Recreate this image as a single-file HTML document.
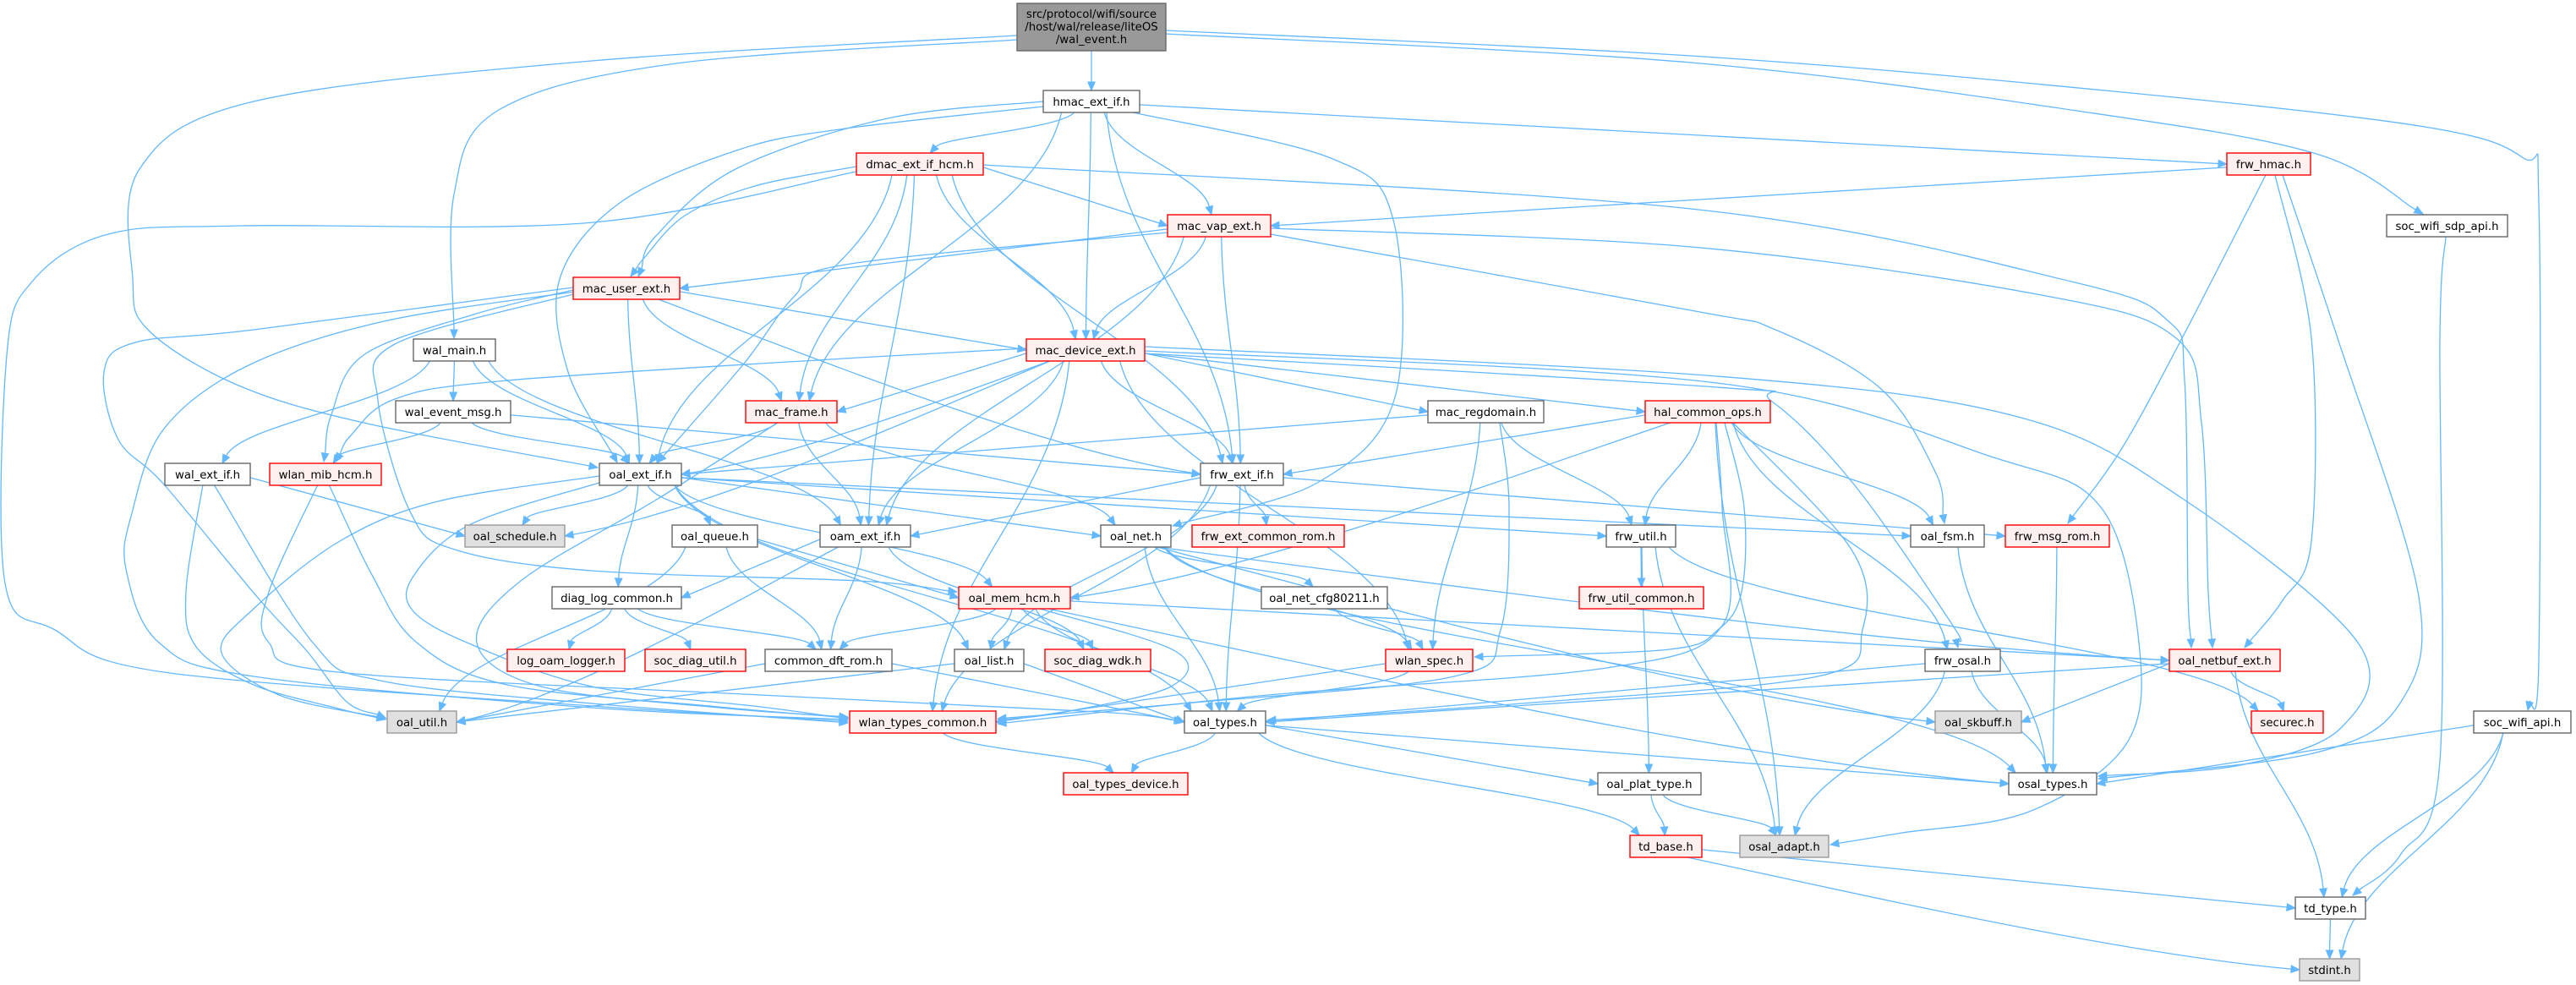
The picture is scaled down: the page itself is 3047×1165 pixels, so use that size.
<!DOCTYPE html>
<html><head><meta charset="utf-8">
<style>
html,body{margin:0;padding:0;background:#fff;width:3047px;height:1165px;overflow:hidden}
svg{display:block}
.n text{font-family:"DejaVu Sans","Liberation Sans",sans-serif;font-size:13.3px;fill:#000;text-anchor:middle}
.w rect{fill:#fff;stroke:#666}
.r rect{fill:#fff0f0;stroke:#f00}
.g rect{fill:#e0e0e0;stroke:#999}
rect{stroke-width:1.4}
</style></head>
<body>
<svg xmlns="http://www.w3.org/2000/svg" width="3047" height="1165" viewBox="0 0 3047 1165">
<rect x="0" y="0" width="3047" height="1165" fill="#fff" stroke="none"/>
<g id="edges" fill="none" stroke="#63b8ff" stroke-width="1.3"></g>
<g id="arrows" fill="#63b8ff" stroke="#63b8ff" stroke-width="1"></g>
<g id="nodes">
<g class="n"><rect x="1203" y="4" width="176" height="56" fill="#999" stroke="#666"/><text x="1291" y="21">src/protocol/wifi/source</text><text x="1291" y="36">/host/wal/release/liteOS</text><text x="1291" y="51">/wal_event.h</text></g>
<g class="n w"><rect x="1234" y="107" width="114" height="26"/><text x="1291" y="125">hmac_ext_if.h</text></g>
<g class="n r"><rect x="1013" y="181" width="150" height="26"/><text x="1088" y="199">dmac_ext_if_hcm.h</text></g>
<g class="n r"><rect x="2634" y="181" width="99" height="26"/><text x="2683.5" y="199">frw_hmac.h</text></g>
<g class="n r"><rect x="1381" y="254" width="122" height="26"/><text x="1442" y="272">mac_vap_ext.h</text></g>
<g class="n w"><rect x="2823" y="254" width="143" height="26"/><text x="2894.5" y="272">soc_wifi_sdp_api.h</text></g>
<g class="n r"><rect x="678" y="328" width="126" height="26"/><text x="741" y="346">mac_user_ext.h</text></g>
<g class="n w"><rect x="489" y="401" width="97" height="26"/><text x="537.5" y="419">wal_main.h</text></g>
<g class="n r"><rect x="1214" y="401" width="140" height="26"/><text x="1284" y="419">mac_device_ext.h</text></g>
<g class="n w"><rect x="468" y="474" width="136" height="26"/><text x="536" y="492">wal_event_msg.h</text></g>
<g class="n r"><rect x="882" y="474" width="108" height="26"/><text x="936" y="492">mac_frame.h</text></g>
<g class="n w"><rect x="1689" y="474" width="137" height="26"/><text x="1757.5" y="492">mac_regdomain.h</text></g>
<g class="n r"><rect x="1946" y="474" width="148" height="26"/><text x="2020" y="492">hal_common_ops.h</text></g>
<g class="n w"><rect x="195" y="548" width="101" height="26"/><text x="245.5" y="566">wal_ext_if.h</text></g>
<g class="n r"><rect x="319" y="548" width="132" height="26"/><text x="385" y="566">wlan_mib_hcm.h</text></g>
<g class="n w"><rect x="709" y="548" width="97" height="26"/><text x="757.5" y="566">oal_ext_if.h</text></g>
<g class="n w"><rect x="1420" y="548" width="98" height="26"/><text x="1469" y="566">frw_ext_if.h</text></g>
<g class="n g"><rect x="550" y="621" width="118" height="26"/><text x="609" y="639">oal_schedule.h</text></g>
<g class="n w"><rect x="795" y="621" width="101" height="26"/><text x="845.5" y="639">oal_queue.h</text></g>
<g class="n w"><rect x="970" y="621" width="107" height="26"/><text x="1023.5" y="639">oam_ext_if.h</text></g>
<g class="n w"><rect x="1302" y="621" width="83" height="26"/><text x="1343.5" y="639">oal_net.h</text></g>
<g class="n r"><rect x="1410" y="621" width="180" height="26"/><text x="1500" y="639">frw_ext_common_rom.h</text></g>
<g class="n w"><rect x="1900" y="621" width="82" height="26"/><text x="1941" y="639">frw_util.h</text></g>
<g class="n w"><rect x="2260" y="621" width="87" height="26"/><text x="2303.5" y="639">oal_fsm.h</text></g>
<g class="n r"><rect x="2372" y="621" width="123" height="26"/><text x="2433.5" y="639">frw_msg_rom.h</text></g>
<g class="n w"><rect x="653" y="694" width="153" height="26"/><text x="729.5" y="712">diag_log_common.h</text></g>
<g class="n r"><rect x="1134" y="694" width="132" height="26"/><text x="1200" y="712">oal_mem_hcm.h</text></g>
<g class="n w"><rect x="1492" y="694" width="149" height="26"/><text x="1566.5" y="712">oal_net_cfg80211.h</text></g>
<g class="n r"><rect x="1868" y="694" width="147" height="26"/><text x="1941.5" y="712">frw_util_common.h</text></g>
<g class="n r"><rect x="600" y="768" width="139" height="26"/><text x="669.5" y="786">log_oam_logger.h</text></g>
<g class="n r"><rect x="763" y="768" width="119" height="26"/><text x="822.5" y="786">soc_diag_util.h</text></g>
<g class="n w"><rect x="905" y="768" width="150" height="26"/><text x="980" y="786">common_dft_rom.h</text></g>
<g class="n w"><rect x="1129" y="768" width="82" height="26"/><text x="1170" y="786">oal_list.h</text></g>
<g class="n r"><rect x="1236" y="768" width="125" height="26"/><text x="1298.5" y="786">soc_diag_wdk.h</text></g>
<g class="n r"><rect x="1639" y="768" width="103" height="26"/><text x="1690.5" y="786">wlan_spec.h</text></g>
<g class="n w"><rect x="2277" y="768" width="89" height="26"/><text x="2321.5" y="786">frw_osal.h</text></g>
<g class="n r"><rect x="2566" y="768" width="131" height="26"/><text x="2631.5" y="786">oal_netbuf_ext.h</text></g>
<g class="n g"><rect x="458" y="841" width="82" height="26"/><text x="499" y="859">oal_util.h</text></g>
<g class="n r"><rect x="1005" y="841" width="173" height="26"/><text x="1091.5" y="859">wlan_types_common.h</text></g>
<g class="n w"><rect x="1401" y="841" width="96" height="26"/><text x="1449" y="859">oal_types.h</text></g>
<g class="n g"><rect x="2289" y="841" width="102" height="26"/><text x="2340" y="859">oal_skbuff.h</text></g>
<g class="n r"><rect x="2663" y="841" width="85" height="26"/><text x="2705.5" y="859">securec.h</text></g>
<g class="n w"><rect x="2926" y="841" width="115" height="26"/><text x="2983.5" y="859">soc_wifi_api.h</text></g>
<g class="n r"><rect x="1258" y="914" width="147" height="26"/><text x="1331.5" y="932">oal_types_device.h</text></g>
<g class="n w"><rect x="1890" y="914" width="122" height="26"/><text x="1951" y="932">oal_plat_type.h</text></g>
<g class="n w"><rect x="2376" y="914" width="104" height="26"/><text x="2428" y="932">osal_types.h</text></g>
<g class="n r"><rect x="1928" y="988" width="85" height="26"/><text x="1970.5" y="1006">td_base.h</text></g>
<g class="n g"><rect x="2058" y="988" width="105" height="26"/><text x="2110.5" y="1006">osal_adapt.h</text></g>
<g class="n w"><rect x="2715" y="1061" width="83" height="26"/><text x="2756.5" y="1079">td_type.h</text></g>
<g class="n g"><rect x="2720" y="1134" width="71" height="26"/><text x="2755.5" y="1152">stdint.h</text></g>
</g>
</svg>
<script>
(function(){
const N={
root:[1203,4,176,56],hmac:[1234,107,114,26],dmac:[1013,181,150,26],frw_hmac:[2634,181,99,26],
mac_vap:[1381,254,122,26],sdp:[2823,254,143,26],mac_user:[678,328,126,26],wal_main:[489,401,97,26],
mac_dev:[1214,401,140,26],wal_evt:[468,474,136,26],mac_frame:[882,474,108,26],mac_reg:[1689,474,137,26],
hal:[1946,474,148,26],wal_ext:[195,548,101,26],wlan_mib:[319,548,132,26],oal_ext:[709,548,97,26],
frw_ext:[1420,548,98,26],oal_sched:[550,621,118,26],oal_queue:[795,621,101,26],oam_ext:[970,621,107,26],
oal_net:[1302,621,83,26],frw_ext_rom:[1410,621,180,26],frw_util:[1900,621,82,26],oal_fsm:[2260,621,87,26],
frw_msg_rom:[2372,621,123,26],diag_log:[653,694,153,26],oal_mem:[1134,694,132,26],cfg:[1492,694,149,26],
frw_util_c:[1868,694,147,26],log_oam:[600,768,139,26],soc_diag_util:[763,768,119,26],common_dft:[905,768,150,26],
oal_list:[1129,768,82,26],soc_diag_wdk:[1236,768,125,26],wlan_spec:[1639,768,103,26],frw_osal:[2277,768,89,26],
oal_netbuf:[2566,768,131,26],oal_util:[458,841,82,26],wtc:[1005,841,173,26],oal_types:[1401,841,96,26],
oal_skbuff:[2289,841,102,26],securec:[2663,841,85,26],soc_wifi_api:[2926,841,115,26],otd:[1258,914,147,26],
oal_plat:[1890,914,122,26],osal_types:[2376,914,104,26],td_base:[1928,988,85,26],osal_adapt:[2058,988,105,26],
td_type:[2715,1061,83,26],stdint:[2720,1134,71,26]};
const S_={side:true};
const E=[
['root','hmac'],
['root','wal_main',{sp:[1203,47],v:[[800,75],[590,130],[537,230]],ep:[537,400]}],
['root','oal_ext',{sp:[1203,42],v:[[700,72],[300,120],[165,200],[157,330],[175,390],[280,455],[430,500]],ep:[707,553]}],
['root','sdp',{sp:[1379,40],v:[[2000,74],[2470,133],[2740,182]],ep:[2866,253]}],
['root','soc_wifi_api',{sp:[1379,36],v:[[2000,66],[2500,108],[2868,150],[2985,187],[3003,240],[3003,780]],ep:[2990,840]}],
['hmac','dmac'],['hmac','mac_vap'],['hmac','mac_dev'],['hmac','mac_frame'],['hmac','frw_ext'],['hmac','frw_hmac'],
['hmac','mac_user',{sp:[1234,120],v:[[1050,140],[870,200],[775,280]],ep:[755,327]}],
['hmac','oal_ext',{sp:[1234,126],v:[[1000,152],[874,177],[733,240],[662,330],[672,440]],ep:[730,547]}],
['hmac','oal_net',{sp:[1340,133],v:[[1574,187],[1648,260],[1650,470],[1560,570]],ep:[1387,622]}],
['dmac','mac_vap'],
['dmac','mac_user',{sp:[1013,197],v:[[893,220],[810,255],[762,305]],ep:[746,327]}],
['dmac','mac_dev'],['dmac','mac_frame'],['dmac','oal_ext'],['dmac','oam_ext'],['dmac','frw_ext'],
['dmac','oal_netbuf',{sp:[1163,195],v:[[2000,247],[2450,333],[2565,380],[2584,450],[2588,700]],ep:[2592,766]}],
['dmac','wtc',{sp:[1013,203],v:[[702,263],[287,267],[128,277],[38,333],[8,420],[6,690],[65,745],[194,795],[700,835]],ep:[1003,853]}],
['mac_vap','mac_user'],['mac_vap','mac_dev'],['mac_vap','frw_ext'],['mac_vap','oam_ext'],
['mac_vap','oal_ext',{sp:[1381,275],v:[[1000,313],[940,350],[880,430]],ep:[778,547]}],
['mac_vap','oal_netbuf',{sp:[1503,270],v:[[2000,292],[2420,350],[2574,400],[2604,500],[2612,700]],ep:[2617,766]}],
['mac_vap','oal_fsm',{sp:[1503,277],v:[[2000,367],[2100,390],[2225,460],[2290,560]],ep:[2300,619]}],
['frw_hmac','mac_vap'],
['frw_hmac','frw_msg_rom',{sp:[2680,207],v:[[2581,400],[2510,530]],ep:[2446,619]}],
['frw_hmac','oal_netbuf',{sp:[2691,207],v:[[2734,400],[2734,640],[2700,710]],ep:[2655,766]}],
['frw_hmac','osal_types',{sp:[2700,207],v:[[2765,400],[2860,700],[2840,830],[2740,890]],ep:[2482,921]}],
['sdp','td_type',{sp:[2893,280],v:[[2886,400],[2886,900],[2840,1010]],ep:[2783,1059]}],
['mac_user','mac_dev'],['mac_user','mac_frame'],['mac_user','oal_ext'],['mac_user','frw_ext',S_],
['mac_user','wlan_mib',{sp:[678,343],v:[[560,372],[430,420],[392,490]],ep:[383,546]}],
['mac_user','wtc',{sp:[680,345],v:[[454,380],[292,433],[194,507],[156,607],[149,673],[188,760],[300,800],[700,837]],ep:[1003,851]}],
['mac_user','oal_util',{sp:[678,340],v:[[300,390],[160,405],[123,440],[140,520],[194,573],[305,707],[363,770],[410,830]],ep:[456,849]}],
['mac_user','oal_mem',{sp:[678,348],v:[[467,407],[447,473],[486,607],[538,650],[700,675],[1016,687]],ep:[1132,700]}],
['wal_main','wal_evt'],['wal_main','wal_ext'],['wal_main','oal_ext'],['wal_main','oam_ext'],
['mac_dev','mac_frame'],['mac_dev','oal_ext',S_],['mac_dev','oam_ext'],['mac_dev','wtc'],['mac_dev','frw_ext'],['mac_dev','wlan_spec'],['mac_dev','mac_reg'],['mac_dev','hal'],['mac_dev','oal_sched',S_],
['mac_dev','wlan_mib',{sp:[1214,412],v:[[1016,423],[600,450],[467,472],[415,515]],ep:[397,546]}],
['mac_dev','osal_types',{sp:[1354,410],v:[[2031,445],[2387,493],[2582,590],[2789,760],[2770,860],[2650,905]],ep:[2482,918]}],
['mac_dev','osal_adapt',{sp:[1354,415],v:[[2031,453],[2355,540],[2485,600],[2530,760],[2515,880],[2400,960],[2250,985]],ep:[2165,999]}],
['mac_dev','frw_osal',{sp:[1354,418],v:[[2031,458],[2096,475],[2193,573],[2310,740]],ep:[2316,766]}],
['mac_frame','oal_ext'],['mac_frame','oam_ext'],['mac_frame','oal_net'],
['mac_frame','wtc',{sp:[920,500],v:[[778,590],[616,687],[564,760],[640,812],[850,837]],ep:[1003,848]}],
['mac_reg','oal_ext'],['mac_reg','frw_util'],['mac_reg','wlan_spec'],
['mac_reg','wtc',{sp:[1774,500],v:[[1785,600],[1775,745],[1720,800],[1400,832]],ep:[1180,850]}],
['hal','frw_ext'],['hal','oal_mem',S_],['hal','frw_util'],['hal','oal_fsm'],['hal','frw_osal'],['hal','osal_adapt'],
['hal','oal_types',{sp:[2050,500],v:[[2190,650],[2203,745],[2150,800],[1800,832]],ep:[1499,852]}],
['hal','wlan_spec',{sp:[2040,500],v:[[2063,600],[2060,700],[2032,745],[1975,768]],ep:[1744,777]}],
['hal','wtc',{sp:[2030,500],v:[[2037,600],[2037,740],[1900,790],[1500,822]],ep:[1180,856]}],
['wal_evt','wlan_mib'],['wal_evt','oal_ext'],['wal_evt','frw_ext'],
['wal_ext','oal_sched'],
['wal_ext','oal_util',{sp:[240,573],v:[[220,700],[232,765],[300,810],[400,838]],ep:[456,851]}],
['wal_ext','wtc',{sp:[253,573],v:[[370,760],[450,805],[700,832]],ep:[1003,855]}],
['wlan_mib','wtc',{sp:[389,573],v:[[440,680],[493,760],[600,810],[850,836]],ep:[1003,849]}],
['wlan_mib','oal_types',{sp:[376,573],v:[[318,700],[318,760],[400,795],[900,822],[1300,842]],ep:[1399,853]}],
['oal_ext','oal_sched'],['oal_ext','oal_queue'],['oal_ext','diag_log'],['oal_ext','oal_net'],['oal_ext','frw_util'],['oal_ext','oal_fsm'],['oal_ext','oal_list'],['oal_ext','oal_types'],['oal_ext','oal_mem'],
['oal_ext','oal_util',{sp:[709,563],v:[[518,593],[402,640],[300,720],[262,772],[330,822]],ep:[456,850]}],
['oal_ext','wtc',{sp:[712,570],v:[[557,620],[490,680],[488,722],[557,762],[700,812],[900,836]],ep:[1003,850]}],
['frw_ext','oam_ext'],['frw_ext','frw_ext_rom'],['frw_ext','frw_msg_rom'],['frw_ext','oal_list'],['frw_ext','oal_types'],['frw_ext','wtc'],
['oal_queue','common_dft'],['oal_queue','oal_mem'],['oal_queue','oal_util'],
['oam_ext','diag_log'],['oam_ext','common_dft'],['oam_ext','soc_diag_wdk'],['oam_ext','oal_util',S_],
['diag_log','log_oam'],['diag_log','soc_diag_util'],['diag_log','common_dft'],
['oal_net','cfg'],['oal_net','oal_types'],['oal_net','wlan_spec'],['oal_net','oal_netbuf'],['oal_net','osal_types'],['oal_net','oal_skbuff',S_],
['oal_mem','common_dft'],['oal_mem','oal_list'],['oal_mem','soc_diag_wdk'],['oal_mem','oal_types'],['oal_mem','oal_netbuf'],['oal_mem','osal_types'],
['oal_mem','wtc',{sp:[1230,720],v:[[1390,770],[1385,812],[1260,842]],ep:[1180,852]}],
['cfg','wlan_spec'],
['frw_util','frw_util_c'],['frw_util','securec'],['frw_util','osal_adapt'],['frw_util','oal_plat'],
['wlan_spec','wtc'],['wlan_spec','oal_types'],
['oal_list','oal_types'],['oal_list','oal_util'],
['common_dft','oal_types'],['common_dft','oal_util'],
['oal_types','otd'],['oal_types','osal_types'],['oal_types','oal_plat'],['oal_types','td_base'],
['wtc','otd'],
['oal_plat','td_base'],['oal_plat','osal_adapt'],
['td_base','td_type'],['td_base','stdint'],
['td_type','stdint'],
['soc_wifi_api','osal_types'],['soc_wifi_api','td_type'],['soc_wifi_api','stdint'],
['frw_osal','oal_types'],['frw_osal','osal_types'],['frw_osal','osal_adapt'],
['oal_netbuf','oal_skbuff'],['oal_netbuf','securec'],['oal_netbuf','td_type'],['oal_netbuf','oal_types'],
['oal_fsm','osal_types'],['frw_msg_rom','osal_types']
];
const ns='http://www.w3.org/2000/svg';
const eg=document.getElementById('edges'),ag=document.getElementById('arrows');
function f(p){return p[0].toFixed(1)+','+p[1].toFixed(1);}
function cl(v,a){return Math.max(-a,Math.min(a,v));}
function C(r){return [r[0]+r[2]/2,r[1]+r[3]/2];}
function addPath(d){const p=document.createElementNS(ns,'path');p.setAttribute('d',d);eg.appendChild(p);}
function arrow(ep,from){
  const dx=ep[0]-from[0],dy=ep[1]-from[1],l=Math.hypot(dx,dy)||1,ux=dx/l,uy=dy/l;
  const b=[ep[0]-ux*10,ep[1]-uy*10];
  const p=document.createElementNS(ns,'path');
  p.setAttribute('d','M'+f(ep)+' L'+f([b[0]-uy*4.2,b[1]+ux*4.2])+' L'+f([b[0]+uy*4.2,b[1]-ux*4.2])+' Z');
  ag.appendChild(p);return b;
}
function cr(pts){
  let d='M'+f(pts[0]);
  for(let i=0;i<pts.length-1;i++){
    const p0=pts[i-1]||pts[i],p1=pts[i],p2=pts[i+1],p3=pts[i+2]||p2;
    const c1=[p1[0]+(p2[0]-p0[0])/6,p1[1]+(p2[1]-p0[1])/6];
    const c2=[p2[0]-(p3[0]-p1[0])/6,p2[1]-(p3[1]-p1[1])/6];
    d+=' C'+f(c1)+' '+f(c2)+' '+f(p2);
  }
  return d;
}
E.forEach(function(e){
  const S=N[e[0]],T=N[e[1]],o=e[2]||{};
  if(!S||!T)return;
  if(o.v){
    const pts=[o.sp].concat(o.v,[o.ep]);
    const b=arrow(o.ep,o.v[o.v.length-1]);
    pts[pts.length-1]=b;addPath(cr(pts));return;
  }
  const sc=C(S),tc=C(T),dyT=T[1]-(S[1]+S[3]),dx=tc[0]-sc[0];
  let sp,ep,c1,c2;
  if(o.side||Math.abs(dx)>5.5*dyT){
    const dir=dx>0?1:-1;
    if(dyT<60){sp=[dir>0?S[0]+S[2]:S[0],S[1]+S[3]*0.65];}
    else{sp=[sc[0]+dir*S[2]*0.3,S[1]+S[3]];}
    ep=[dir>0?T[0]:T[0]+T[2],T[1]+T[3]*0.5];
    if(dyT<60){
      c1=[sp[0]+(ep[0]-sp[0])*0.33,sp[1]+(ep[1]-sp[1])*0.33];
      c2=[sp[0]+(ep[0]-sp[0])*0.67,sp[1]+(ep[1]-sp[1])*0.67];
    }else{
      c1=[sp[0]+(ep[0]-sp[0])*0.3,sp[1]+(ep[1]-sp[1])*0.35];
      c2=[ep[0]-(ep[0]-sp[0])*0.3,ep[1]-(ep[1]-sp[1])*0.15];
    }
  }else{
    sp=[sc[0]+cl(dx*0.1,S[2]/2-8),S[1]+S[3]];
    ep=[tc[0]+cl(-dx*0.06,T[2]/2-8),T[1]];
    const d=ep[1]-sp[1];
    c1=[sp[0]+(ep[0]-sp[0])*0.1,sp[1]+d*0.4];
    c2=[ep[0]-(ep[0]-sp[0])*0.1,ep[1]-d*0.4];
  }
  const b=arrow(ep,c2);
  addPath('M'+f(sp)+' C'+f(c1)+' '+f(c2)+' '+f(b));
});
})();
</script>
</body></html>
